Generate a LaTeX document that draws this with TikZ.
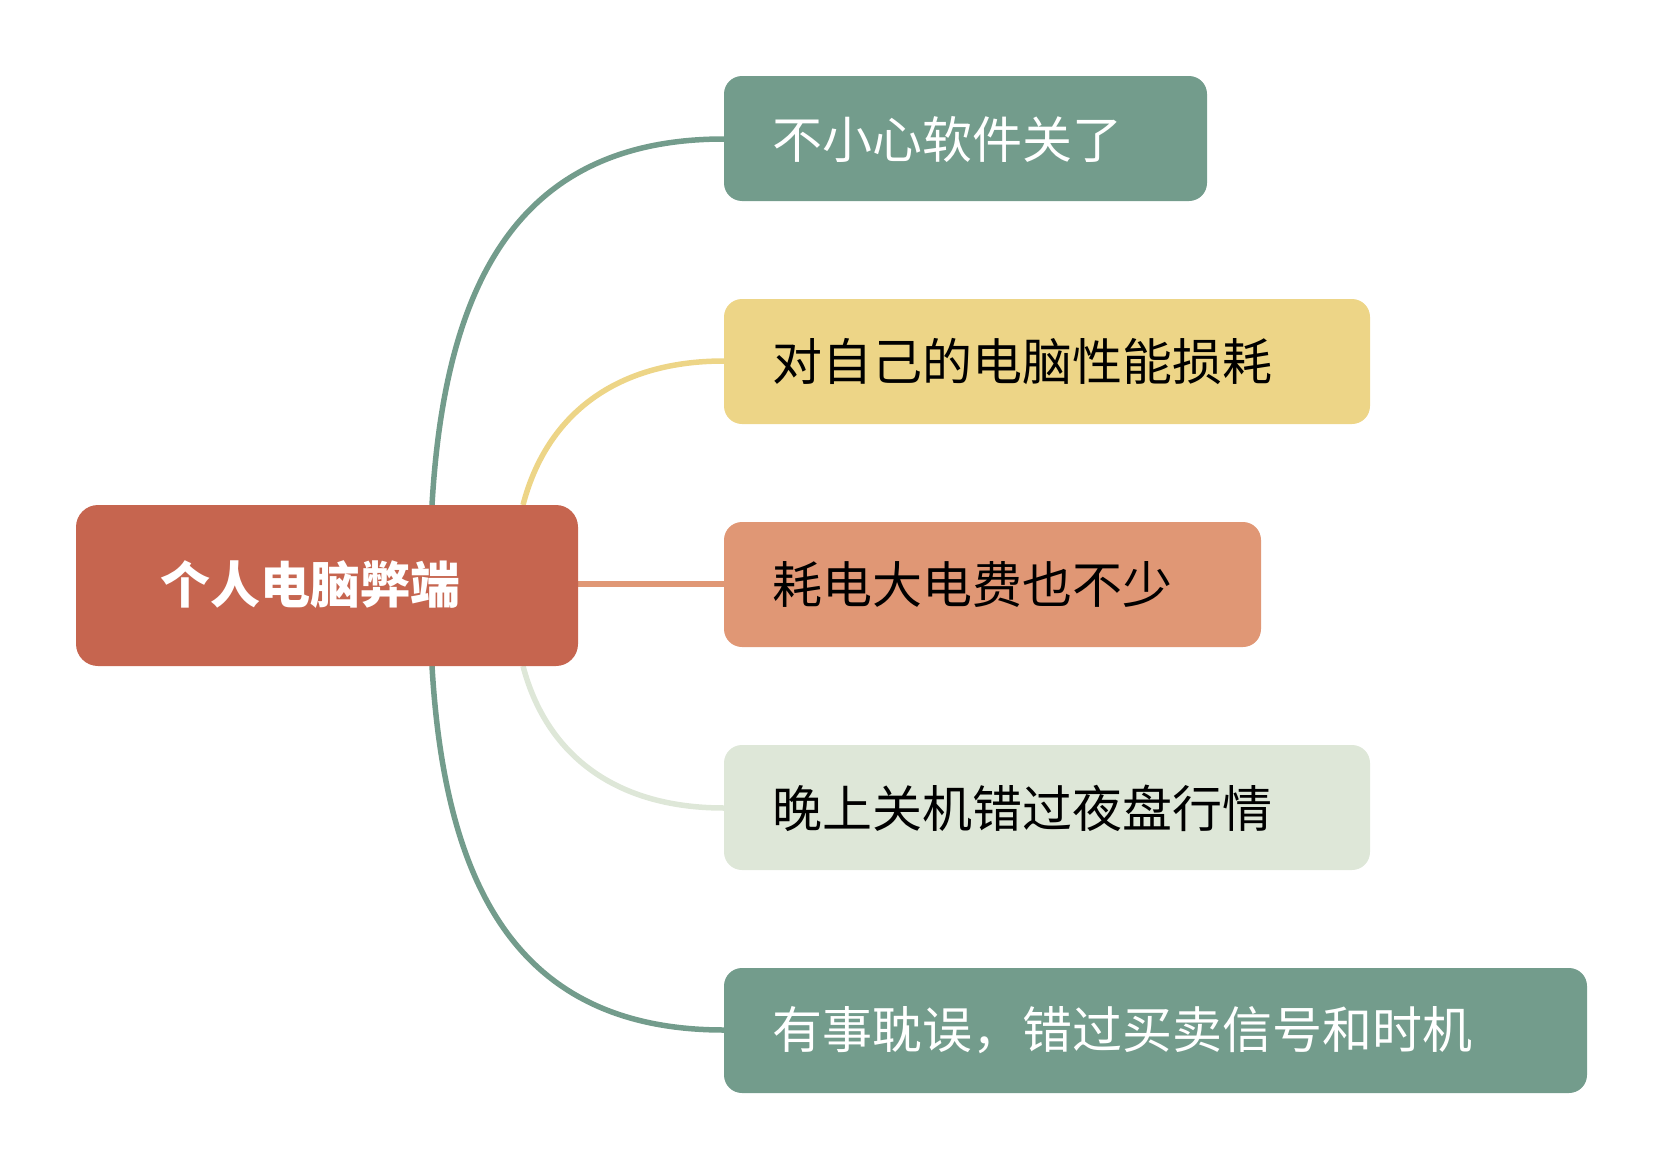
\documentclass[tikz,border=0pt]{standalone}
\usepackage{fontspec}
\setmainfont{Noto Sans CJK SC}
\definecolor{cg}{HTML}{739C8C}
\definecolor{cy}{HTML}{EDD587}
\definecolor{co}{HTML}{E09775}
\definecolor{cl}{HTML}{DEE7D8}
\definecolor{cr}{HTML}{C6654F}
\begin{document}
\begin{tikzpicture}[x=1pt,y=-1pt,
  leaf/.style={rounded corners=18pt,inner sep=0pt,font=\fontsize{50}{60}\selectfont},
  conn/.style={line width=5.5pt}]
\useasboundingbox (0,0) rectangle (1654,1164);
\fill[cg,rounded corners=18pt] (724,76) rectangle (1207,201);
\fill[cy,rounded corners=18pt] (724,299) rectangle (1370,424);
\fill[co,rounded corners=18pt] (724,522) rectangle (1261,647);
\fill[cl,rounded corners=18pt] (724,745) rectangle (1370,870);
\fill[cg,rounded corners=18pt] (724,968) rectangle (1587,1093);
\coordinate (b1) at (724,139);
\coordinate (b2) at (724,361);
\coordinate (b3) at (724,584);
\coordinate (b4) at (724,808);
\coordinate (b5) at (724,1030);
\coordinate (r1) at (432,505);
\coordinate (r2) at (523,505);
\coordinate (r3) at (578,584);
\coordinate (r4) at (523,666);
\coordinate (r5) at (432,666);
\draw[conn,cg] (r1) .. controls (445,280) and (520,139) .. (b1);
\draw[conn,cy] (r2) .. controls (545,420) and (610,361) .. (b2);
\draw[conn,co] (r3) -- (b3);
\draw[conn,cl] (r4) .. controls (545,750) and (610,808) .. (b4);
\draw[conn,cg] (r5) .. controls (445,890) and (520,1030) .. (b5);
\fill[cr,rounded corners=22pt] (76,505) rectangle (578,666);
\node[anchor=west,font=\fontsize{50}{60}\selectfont\bfseries,text=white,inner sep=0pt] (root) at (160,585) {个人电脑弊端};
\node[anchor=west,font=\fontsize{50}{60}\selectfont,text=white,inner sep=0pt] (t1) at (772,139) {不小心软件关了};
\node[anchor=west,font=\fontsize{50}{60}\selectfont,text=black,inner sep=0pt] (t2) at (772,361) {对自己的电脑性能损耗};
\node[anchor=west,font=\fontsize{50}{60}\selectfont,text=black,inner sep=0pt] (t3) at (772,584) {耗电大电费也不少};
\node[anchor=west,font=\fontsize{50}{60}\selectfont,text=black,inner sep=0pt] (t4) at (772,808) {晚上关机错过夜盘行情};
\node[anchor=west,font=\fontsize{50}{60}\selectfont,text=white,inner sep=0pt] (t5) at (772,1030) {有事耽误，错过买卖信号和时机};
\end{tikzpicture}
\end{document}
